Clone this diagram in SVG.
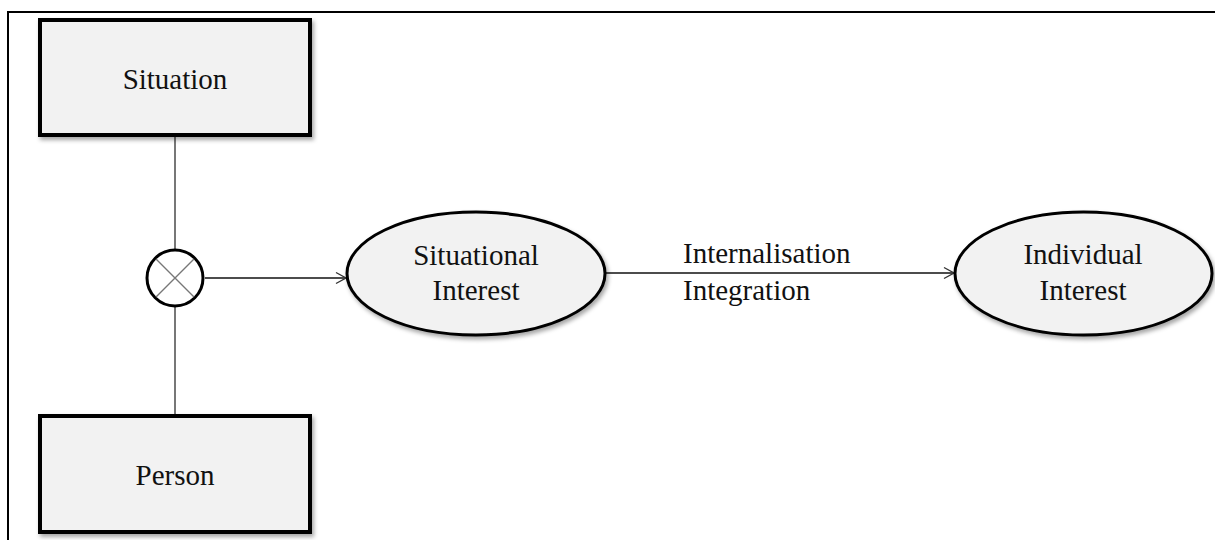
<svg xmlns="http://www.w3.org/2000/svg" width="1215" height="540" viewBox="0 0 1215 540">
  <style>
    .box { fill: #f2f2f2; stroke: #000; stroke-width: 4; }
    .oval { fill: #f2f2f2; stroke: #000; stroke-width: 3; }
    .lbl { font-family: "Liberation Serif", "Times New Roman", serif; font-size: 29px; fill: #111; }
    .mid { text-anchor: middle; }
    .stem { stroke: #555; stroke-width: 1.6; fill: none; }
    .arrow { stroke: #111; stroke-width: 1.4; fill: none; }
  </style>
  <defs>
    <filter id="shadow" x="-10%" y="-10%" width="125%" height="130%">
      <feDropShadow dx="2" dy="3" stdDeviation="2" flood-color="#000" flood-opacity="0.35"/>
    </filter>
    <marker id="open" markerWidth="14" markerHeight="14" refX="11" refY="7" orient="auto" markerUnits="userSpaceOnUse">
      <path d="M1,1.5 L11,7 L1,12.5" fill="none" stroke="#333" stroke-width="1.4"/>
    </marker>
  </defs>

  <rect width="1215" height="540" fill="#fff"/>

  <!-- outer frame: top and left edges -->
  <path d="M8,540 L8,12 L1215,12" fill="none" stroke="#000" stroke-width="2"/>

  <!-- connectors -->
  <g id="connectors">
    <line class="stem" x1="175" y1="136" x2="175" y2="249"/>
    <line class="stem" x1="175" y1="307" x2="175" y2="415"/>
    <line class="arrow" x1="205" y1="278" x2="346" y2="278" marker-end="url(#open)"/>
    <line class="arrow" x1="606" y1="273" x2="954" y2="273" marker-end="url(#open)"/>
    <text class="lbl" x="683" y="263">Internalisation</text>
    <text class="lbl" x="683" y="300">Integration</text>
  </g>

  <g id="situation">
    <rect class="box" x="40" y="20" width="270" height="115" filter="url(#shadow)"/>
    <text class="lbl mid" x="175" y="89">Situation</text>
  </g>

  <g id="person">
    <rect class="box" x="40" y="416" width="270" height="116" filter="url(#shadow)"/>
    <text class="lbl mid" x="175" y="485">Person</text>
  </g>

  <g id="combine">
    <circle cx="175" cy="278" r="28" fill="#fff" stroke="#000" stroke-width="3"/>
    <path d="M156,259 L194,297 M194,259 L156,297" stroke="#777" stroke-width="1.4"/>
  </g>

  <g id="situational-interest">
    <ellipse class="oval" cx="476" cy="273.5" rx="129" ry="61.5" filter="url(#shadow)"/>
    <text class="lbl mid" x="476" y="265">Situational</text>
    <text class="lbl mid" x="476" y="300">Interest</text>
  </g>

  <g id="individual-interest">
    <ellipse class="oval" cx="1083.5" cy="273.5" rx="128.5" ry="61.5" filter="url(#shadow)"/>
    <text class="lbl mid" x="1083" y="264">Individual</text>
    <text class="lbl mid" x="1083" y="300">Interest</text>
  </g>
</svg>
